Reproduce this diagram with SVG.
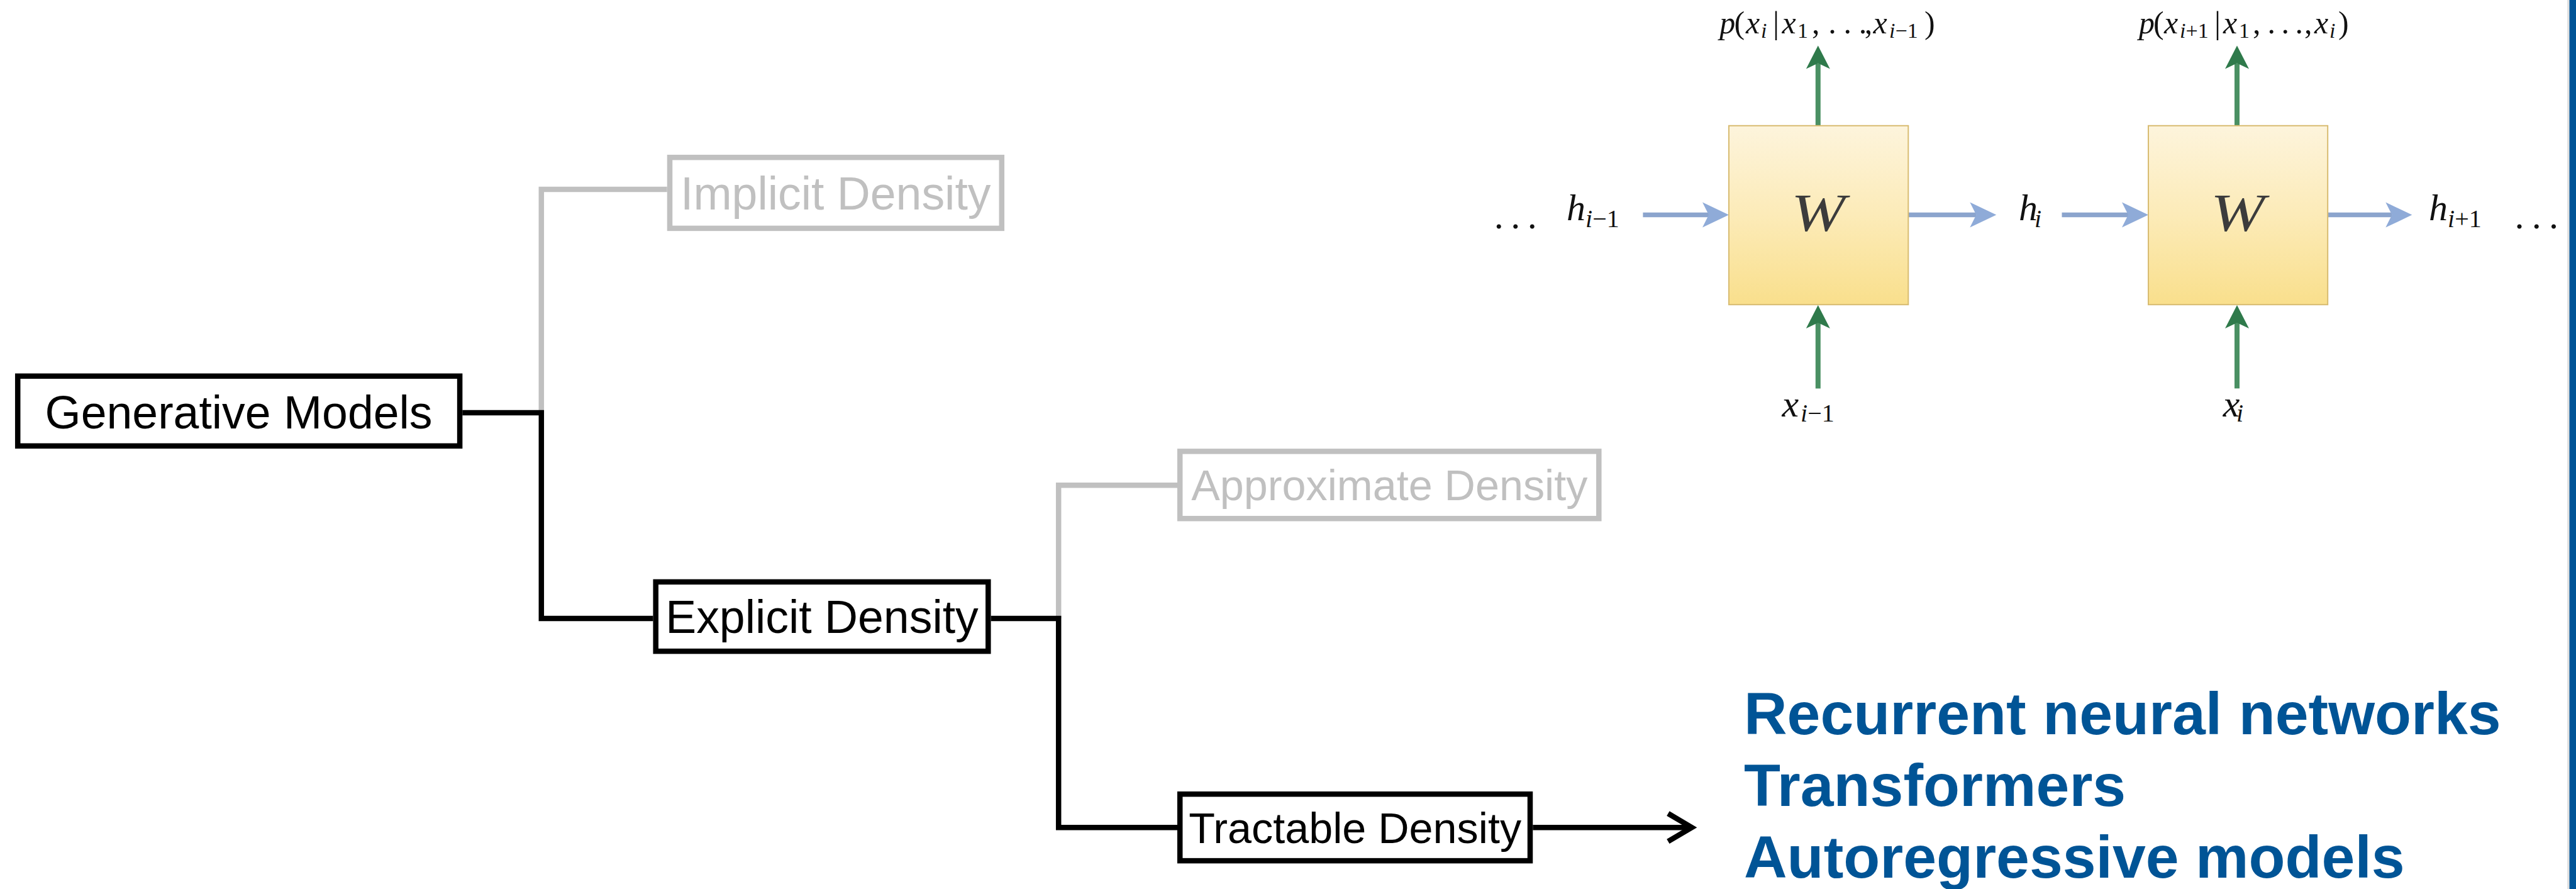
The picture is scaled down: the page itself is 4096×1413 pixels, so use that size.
<svg xmlns="http://www.w3.org/2000/svg" width="4096" height="1413" viewBox="0 0 4096 1413">
  <defs>
    <style>
      .box { fill: #ffffff; stroke: #000000; stroke-width: 8.5; }
      .box.dim { stroke: #c0c0c0; }
      .lbl { font-family: "Liberation Sans", Arial, Helvetica, sans-serif; font-size: 73.4px; text-anchor: middle; fill: #000000; }
      .lbl.small { font-size: 68.3px; }
      .lbl.dim { fill: #c0c0c0; }
      .conn { fill: none; stroke: #000000; stroke-width: 8.5; stroke-linejoin: miter; stroke-linecap: butt; }
      .conn.dim { stroke: #c0c0c0; }
      .models { font-family: "Liberation Sans", Arial, Helvetica, sans-serif; font-weight: bold; font-size: 95px; fill: #005496; }
      .cell { fill: url(#cellFill); stroke: #d8bc72; stroke-width: 2; }
      .wlbl { font-family: "Liberation Serif", "Times New Roman", serif; font-style: italic; font-size: 84px; fill: #3c3c3c; }
      .math { font-family: "Liberation Serif", "Times New Roman", serif; fill: #111111; }
      .m { font-size: 60px; }
      .ms { font-size: 40px; }
      .t { font-size: 50px; }
      .ts { font-size: 34px; }
      .it { font-style: italic; }
      .hflow { fill: none; stroke: #8ba4cd; stroke-width: 7.5; }
      .vflow { fill: none; stroke: #4a9063; stroke-width: 8; }
    </style>
    <linearGradient id="cellFill" x1="0" y1="0" x2="0" y2="1">
      <stop offset="0" stop-color="#fdf4dc"/>
      <stop offset="0.5" stop-color="#fcebb8"/>
      <stop offset="1" stop-color="#f9df8c"/>
    </linearGradient>
    <marker id="headBlue" markerUnits="userSpaceOnUse" markerWidth="42" markerHeight="40" refX="10" refY="20" orient="auto" overflow="visible">
      <path d="M0,0 L42,20 L0,40 L10,20 Z" fill="#8fabd8"/>
    </marker>
    <marker id="headGreen" markerUnits="userSpaceOnUse" markerWidth="38" markerHeight="38" refX="9" refY="19" orient="auto" overflow="visible">
      <path d="M0,0 L37,19 L0,38 L9,19 Z" fill="#2f7a4b"/>
    </marker>
  </defs>

  <rect x="0" y="0" width="4096" height="1413" fill="#ffffff"/>

  <!-- tree connectors: grey branches first, black path drawn over the junctions -->
  <g id="connectors">
    <path class="conn dim" d="M860.8,655.9 V301 H1060.7"/>
    <path class="conn dim" d="M1683.2,983 V771.2 H1872"/>
    <path class="conn" d="M735.3,655.9 H860.8 V983 H1038.5"/>
    <path class="conn" d="M1575.6,983 H1683.2 V1315.2 H1872"/>
    <path class="conn" d="M2437.3,1315.2 H2688"/>
    <path class="conn" d="M2652.4,1293 L2690,1315.2 L2652.4,1337.4"/>
  </g>

  <g id="generative-models">
    <rect class="box" x="28.2" y="597.8" width="702.9" height="111"/>
    <text class="lbl" x="379.6" y="680.6">Generative Models</text>
  </g>

  <g id="implicit-density">
    <rect class="box dim" x="1065" y="250.2" width="527.8" height="112.7"/>
    <text class="lbl dim" x="1328.8" y="333">Implicit Density</text>
  </g>

  <g id="explicit-density">
    <rect class="box" x="1042.7" y="924.9" width="528.6" height="110.2"/>
    <text class="lbl" x="1307" y="1006.4">Explicit Density</text>
  </g>

  <g id="approximate-density">
    <rect class="box dim" x="1876.2" y="717.4" width="666.1" height="106.8"/>
    <text class="lbl small dim" x="2209.3" y="795">Approximate Density</text>
  </g>

  <g id="tractable-density">
    <rect class="box" x="1876.2" y="1262.2" width="556.8" height="105.9"/>
    <text class="lbl small" x="2154.6" y="1340">Tractable Density</text>
  </g>

  <g id="model-list">
    <text class="models" x="2773" y="1167.4">Recurrent neural networks</text>
    <text class="models" x="2773" y="1281">Transformers</text>
    <text class="models" x="2773" y="1394.6">Autoregressive models</text>
  </g>

  <!-- unrolled recurrent cell -->
  <g id="rnn-flows">
    <path class="hflow" d="M2612.4,341.6 H2717" marker-end="url(#headBlue)"/>
    <path class="hflow" d="M3034.3,341.6 H3142.3" marker-end="url(#headBlue)"/>
    <path class="hflow" d="M3278.5,341.6 H3384" marker-end="url(#headBlue)"/>
    <path class="hflow" d="M3701.2,341.6 H3803.3" marker-end="url(#headBlue)"/>
    <path class="vflow" d="M2890.8,199.8 V100.6" marker-end="url(#headGreen)"/>
    <path class="vflow" d="M2890.8,617.4 V513" marker-end="url(#headGreen)"/>
    <path class="vflow" d="M3557,199.8 V100.6" marker-end="url(#headGreen)"/>
    <path class="vflow" d="M3557,617.4 V513" marker-end="url(#headGreen)"/>
  </g>

  <g id="cell-1">
    <rect class="cell" x="2749" y="199.8" width="285.3" height="284.4"/>
    <text class="wlbl" x="2848" y="367" textLength="86" lengthAdjust="spacingAndGlyphs">W</text>
  </g>

  <g id="cell-2">
    <rect class="cell" x="3416" y="199.8" width="285.2" height="284.4"/>
    <text class="wlbl" x="3515" y="367" textLength="86" lengthAdjust="spacingAndGlyphs">W</text>
  </g>

  <g id="rnn-labels">
    <!-- hidden states -->
    <text class="math m" x="2375.8 2402.3 2428.8" y="363">...</text>
    <text class="math"><tspan class="m it" x="2491" y="350">h</tspan><tspan class="ms" x="2521" y="361"><tspan class="it">i</tspan>−1</tspan></text>
    <text class="math"><tspan class="m it" x="3210" y="350">h</tspan><tspan class="ms it" x="3235" y="361">i</tspan></text>
    <text class="math"><tspan class="m it" x="3862" y="350">h</tspan><tspan class="ms" x="3892" y="361"><tspan class="it">i</tspan>+1</tspan></text>
    <text class="math m" x="3998.4 4025.8 4053" y="363">...</text>

    <!-- inputs -->
    <text class="math"><tspan class="m it" x="2833.6" y="661.9">x</tspan><tspan class="ms" x="2863" y="670.4"><tspan class="it">i</tspan>−1</tspan></text>
    <text class="math"><tspan class="m it" x="3534.7" y="661.9">x</tspan><tspan class="ms it" x="3556" y="670.4">i</tspan></text>

    <!-- conditionals -->
    <text class="math t" y="52.9"><tspan class="it" x="2734.2">p</tspan><tspan x="2757.6">(</tspan><tspan class="it" x="2776">x</tspan><tspan class="ts it" x="2800" y="59.8">i</tspan><tspan x="2819" y="52.9">|</tspan><tspan class="it" x="2833.5">x</tspan><tspan class="ts" x="2858" y="59.8">1</tspan><tspan x="2881" y="52.9">,</tspan><tspan x="2907.3 2931.5 2955.7">...</tspan><tspan x="2964.8">,</tspan><tspan class="it" x="2978.5">x</tspan><tspan class="ts" x="3004" y="59.8"><tspan class="it">i</tspan>−1</tspan><tspan x="3060" y="52.9">)</tspan></text>
    <text class="math t" y="52.9"><tspan class="it" x="3400.9">p</tspan><tspan x="3424">(</tspan><tspan class="it" x="3441">x</tspan><tspan class="ts" x="3466" y="59.8"><tspan class="it">i</tspan>+1</tspan><tspan x="3521" y="52.9">|</tspan><tspan class="it" x="3535">x</tspan><tspan class="ts" x="3560" y="59.8">1</tspan><tspan x="3582" y="52.9">,</tspan><tspan x="3605.4 3627.4 3649.4">...</tspan><tspan x="3664">,</tspan><tspan class="it" x="3680">x</tspan><tspan class="ts it" x="3704" y="59.8">i</tspan><tspan x="3718" y="52.9">)</tspan></text>
  </g>

  <!-- slide edge -->
  <rect x="4082" y="0" width="3.5" height="1413" fill="#e2e2e2"/>
  <rect x="4085.5" y="0" width="10.5" height="1413" fill="#005496"/>
</svg>
